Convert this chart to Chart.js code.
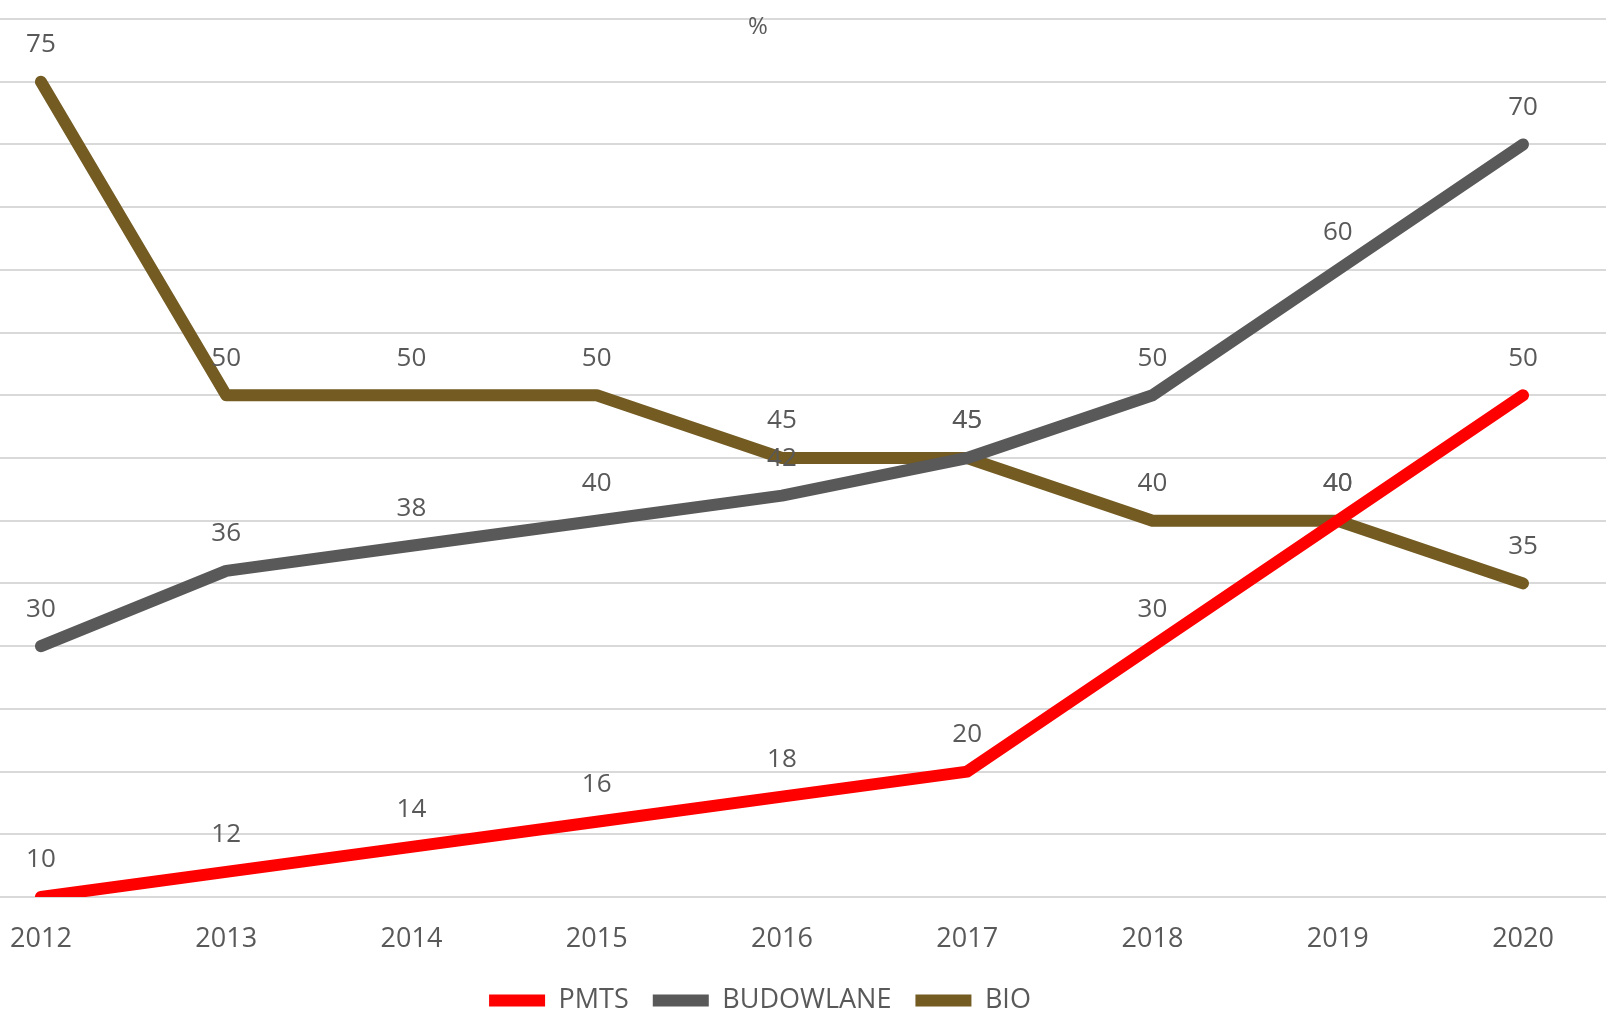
<!DOCTYPE html>
<html>
<head>
<meta charset="utf-8">
<script src="https://cdn.jsdelivr.net/npm/chart.js@4.4.1/dist/chart.umd.min.js"></script>
<style>
  body { margin: 0; background: #fff; }
  #wrap { width: 1606px; height: 1013px; }
</style>
</head>
<body>
<div id="wrap"><canvas id="lineChart"></canvas></div>
<script>
const years = [2012, 2013, 2014, 2015, 2016, 2017, 2018, 2019, 2020];
const pmts = [10, 12, 14, 16, 18, 20, 30, 40, 50];
const budowlane = [30, 36, 38, 40, 42, 45, 50, 60, 70];
const bio = [75, 50, 50, 50, 45, 45, 40, 40, 35];
const seriesNames = ['PMTS', 'BUDOWLANE', 'BIO'];
const seriesColors = ['#ff0000', '#595959', '#735b22'];
const unitLabel = '%';

const textColor = '#595959';
const fontFamily = '"Open Sans", "Noto Sans", sans-serif';

function toPoints(values) {
    return years.map((y, i) => ({ x: y, y: values[i] }));
}

// value labels above each point
const valueLabels = {
    id: 'valueLabels',
    afterDatasetsDraw(chart) {
        const ctx = chart.ctx;
        ctx.save();
        ctx.font = '26px ' + fontFamily;
        ctx.fillStyle = textColor;
        ctx.textAlign = 'center';
        ctx.textBaseline = 'middle';
        chart.data.datasets.forEach((ds, i) => {
            const meta = chart.getDatasetMeta(i);
            meta.data.forEach((pt, j) => {
                ctx.fillText(String(ds.data[j].y), pt.x, pt.y - 37);
            });
        });
        ctx.restore();
    }
};

// the "%" caption near the top
const unitCaption = {
    id: 'unitCaption',
    afterDraw(chart) {
        const ctx = chart.ctx;
        ctx.save();
        ctx.font = '24px ' + fontFamily;
        ctx.fillStyle = textColor;
        ctx.textAlign = 'center';
        ctx.textBaseline = 'middle';
        ctx.fillText(unitLabel, 758, 27);
        ctx.restore();
    }
};

// legend sits a bit left of the canvas centre in the original
const legendShift = {
    id: 'legendShift',
    afterLayout(chart) {
        if (chart.legend) chart.legend.right = chart.width - 86;
    }
};

const ctx = document.getElementById('lineChart').getContext('2d');
const lineChart = new Chart(ctx, {
    type: 'line',
    data: {
        datasets: [pmts, budowlane, bio].map((vals, i) => ({
            label: seriesNames[i],
            data: toPoints(vals),
            borderColor: seriesColors[i],
            backgroundColor: seriesColors[i],
            borderWidth: 12,
            borderCapStyle: 'round',
            borderJoinStyle: 'round',
            pointRadius: 0,
            pointHoverRadius: 0,
            tension: 0,
            clip: 0
        }))
    },
    options: {
        responsive: true,
        maintainAspectRatio: false,
        devicePixelRatio: 1,
        animation: false,
        events: [],
        layout: { padding: { top: 19, left: 0, right: 0, bottom: 0 } },
        scales: {
            x: {
                type: 'linear',
                min: 2011.779,
                max: 2020.448,
                grid: { display: false, drawTicks: false },
                border: { display: false },
                afterBuildTicks: scale => { scale.ticks = years.map(v => ({ value: v })); },
                afterFit: scale => {
                    scale.paddingLeft = 0;
                    scale.paddingRight = 0;
                    scale.height = 66;
                },
                ticks: {
                    padding: 26,
                    color: textColor,
                    font: { family: fontFamily, size: 27 },
                    callback: v => String(v),
                    autoSkip: false,
                    maxRotation: 0
                }
            },
            y: {
                min: 10,
                max: 80,
                ticks: { display: false, stepSize: 5 },
                grid: { color: '#d9d9d9', lineWidth: 2, drawTicks: false },
                border: { display: false }
            }
        },
        plugins: {
            tooltip: { enabled: false },
            legend: {
                position: 'bottom',
                maxHeight: 50,
                labels: {
                    boxWidth: 56,
                    boxHeight: 12,
                    useBorderRadius: true,
                    borderRadius: 6,
                    padding: 24,
                    color: textColor,
                    font: { family: fontFamily, size: 27 },
                    generateLabels: chart => chart.data.datasets.map((ds, i) => ({
                        text: ds.label,
                        fillStyle: ds.borderColor,
                        strokeStyle: ds.borderColor,
                        lineWidth: 0,
                        datasetIndex: i,
                        fontColor: textColor
                    }))
                }
            }
        }
    },
    plugins: [valueLabels, unitCaption, legendShift]
});
</script>
</body>
</html>
